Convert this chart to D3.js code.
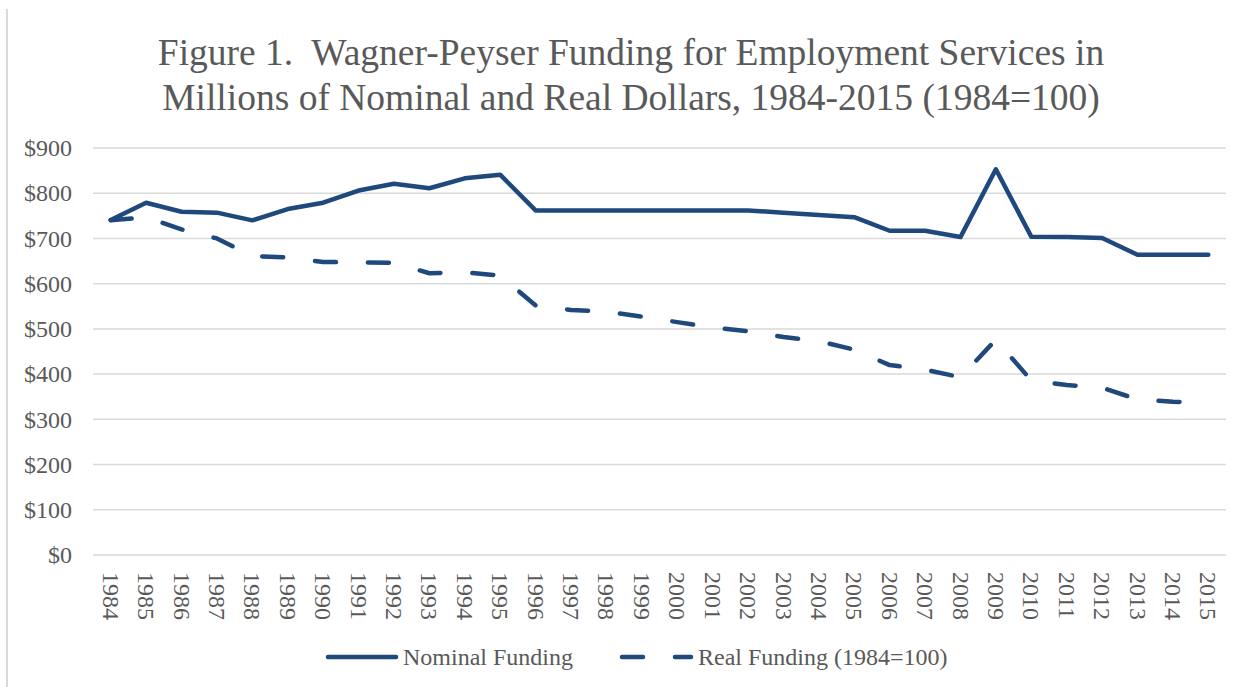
<!DOCTYPE html>
<meta charset="utf-8">
<style>
  body { margin: 0; background: #fff; }
  svg text { font-family: "Liberation Serif", "Times New Roman", serif; fill: #595959; }
  .title { white-space: pre; }
  .grid line { stroke: #d9d9d9; stroke-width: 1.5; }
</style>
<body>
<svg width="1250" height="687"></svg>
<script src="https://cdn.jsdelivr.net/npm/d3@7"></script>
<script>
// data
var years = [1984, 1985, 1986, 1987, 1988, 1989, 1990, 1991, 1992, 1993, 1994, 1995,
  1996, 1997, 1998, 1999, 2000, 2001, 2002, 2003, 2004, 2005, 2006, 2007,
  2008, 2009, 2010, 2011, 2012, 2013, 2014, 2015];
var nominal = [741, 779, 759, 757, 740, 765, 779, 806, 821, 811, 833, 841,
  762, 762, 762, 762, 762, 762, 762, 757, 752, 747, 717, 717,
  703, 853, 704, 703, 701, 664, 664, 664];
var real = [740, 747, 720, 700, 661, 658, 648, 647, 646, 623, 625, 618,
  552, 542, 538, 527, 515, 503, 495, 482, 473, 454, 420, 410,
  393, 476, 386, 376, 370, 344, 339, 336];
var yTicks = [0, 100, 200, 300, 400, 500, 600, 700, 800, 900];
var titleLines = ["Figure 1.  Wagner-Peyser Funding for Employment Services in",
  "Millions of Nominal and Real Dollars, 1984-2015 (1984=100)"];
var seriesNames = ["Nominal Funding", "Real Funding (1984=100)"];

var color = "#1f497d";
var svg = d3.select("svg");

// chart frame (only the left edge shows in the picture)
svg.append("line")
  .attr("x1", 7).attr("x2", 7).attr("y1", 9).attr("y2", 687)
  .attr("stroke", "#d9d9d9").attr("stroke-width", 2);

// title
svg.selectAll(".title")
  .data(titleLines)
  .enter().append("text")
  .attr("class", "title")
  .attr("x", 631)
  .attr("y", function(d, i) { return 65 + i * 45; })
  .attr("text-anchor", "middle")
  .style("font-size", "37.5px")
  .text(function(d) { return d; });

var x = d3.scalePoint()
  .domain(years)
  .range([93, 1226])
  .padding(0.5);

var y = d3.scaleLinear()
  .domain([0, 900])
  .range([555, 148]);

// gridlines
svg.append("g")
  .attr("class", "grid")
  .selectAll("line")
  .data(yTicks)
  .enter().append("line")
  .attr("x1", 93).attr("x2", 1226)
  .attr("y1", function(d) { return y(d); })
  .attr("y2", function(d) { return y(d); });

// y labels
var yAxis = svg.append("g")
  .attr("transform", "translate(93,0)")
  .call(d3.axisLeft(y).tickValues(yTicks).tickSize(0).tickPadding(21)
    .tickFormat(function(d) { return "$" + d; }));
yAxis.select(".domain").remove();
yAxis.selectAll("text")
  .style("font-size", "24px")
  .style("font-family", "Liberation Serif");

// x labels, rotated to read top-down
var xAxis = svg.append("g")
  .attr("transform", "translate(0,555)")
  .call(d3.axisBottom(x).tickSize(0).tickFormat(d3.format("d")));
xAxis.select(".domain").remove();
xAxis.selectAll("text")
  .style("font-size", "24px")
  .style("font-family", "Liberation Serif")
  .attr("text-anchor", "start")
  .attr("y", 0)
  .attr("dy", "0.35em")
  .attr("transform", "translate(0,17) rotate(90)");

var line = d3.line()
  .x(function(d, i) { return x(years[i]); })
  .y(function(d) { return y(d); });

svg.append("path")
  .datum(nominal)
  .attr("d", line)
  .attr("fill", "none")
  .attr("stroke", color)
  .attr("stroke-width", 4.5)
  .attr("stroke-linejoin", "round")
  .attr("stroke-linecap", "round");

svg.append("path")
  .datum(real)
  .attr("d", line)
  .attr("fill", "none")
  .attr("stroke", color)
  .attr("stroke-width", 4.5)
  .attr("stroke-dasharray", "21,32")
  .attr("stroke-linejoin", "round")
  .attr("stroke-linecap", "round");

// legend
var legend = svg.append("g").attr("transform", "translate(0,657)");
legend.append("line")
  .attr("x1", 328).attr("x2", 396)
  .attr("stroke", color).attr("stroke-width", 4.5)
  .attr("stroke-linecap", "round");
legend.append("text")
  .attr("x", 403).attr("dy", "0.32em")
  .style("font-size", "24px")
  .text(seriesNames[0]);
legend.append("line")
  .attr("x1", 622).attr("x2", 691)
  .attr("stroke", color).attr("stroke-width", 4.5)
  .attr("stroke-dasharray", "21,32")
  .attr("stroke-linecap", "round");
legend.append("text")
  .attr("x", 698).attr("dy", "0.32em")
  .style("font-size", "24px")
  .text(seriesNames[1]);
</script>
</body>
